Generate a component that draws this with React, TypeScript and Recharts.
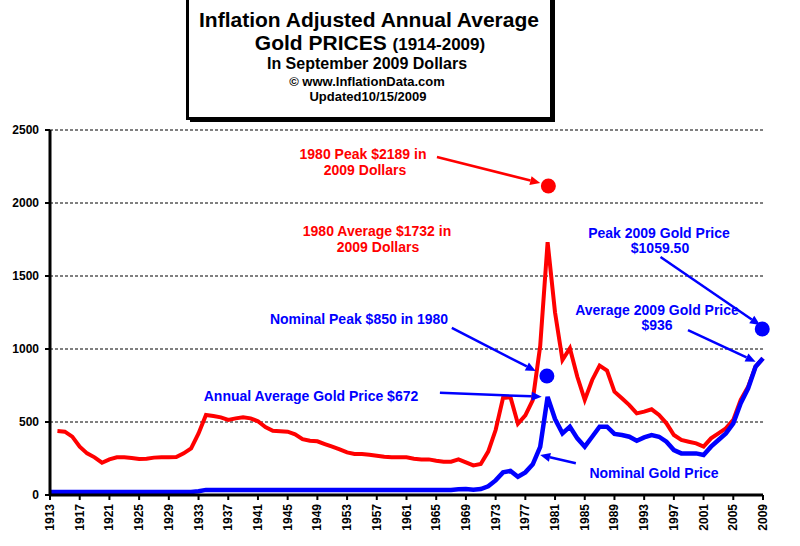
import { LineChart, Line, XAxis, YAxis, CartesianGrid, ReferenceDot, ReferenceLine } from 'recharts'

const FONT = "'Liberation Sans', Arial, sans-serif"
const RED = '#ff0000'
const BLUE = '#0000ff'

const years = [
  1913, 1914, 1915, 1916, 1917, 1918, 1919, 1920, 1921, 1922, 1923, 1924, 1925, 1926, 1927, 1928, 1929, 1930,
  1931, 1932, 1933, 1934, 1935, 1936, 1937, 1938, 1939, 1940, 1941, 1942, 1943, 1944, 1945, 1946, 1947, 1948,
  1949, 1950, 1951, 1952, 1953, 1954, 1955, 1956, 1957, 1958, 1959, 1960, 1961, 1962, 1963, 1964, 1965, 1966,
  1967, 1968, 1969, 1970, 1971, 1972, 1973, 1974, 1975, 1976, 1977, 1978, 1979, 1980, 1981, 1982, 1983, 1984,
  1985, 1986, 1987, 1988, 1989, 1990, 1991, 1992, 1993, 1994, 1995, 1996, 1997, 1998, 1999, 2000, 2001, 2002,
  2003, 2004, 2005, 2006, 2007, 2008, 2009,
]

// inflation adjusted (2009 dollars), no value for 1913
const realPrice = [
  null, 438, 434, 400, 331, 285, 258, 221, 244, 258, 258, 254, 247, 249, 256, 258, 258, 260,
  285, 320, 422, 548, 541, 532, 514, 525, 532, 525, 505, 465, 440, 437, 434, 416, 383, 372,
  368, 349, 331, 313, 292, 281, 281, 276, 269, 262, 258, 258, 258, 249, 244, 244, 235, 228,
  228, 244, 224, 203, 212, 297, 445, 665, 670, 488, 545, 650, 1020, 1732, 1250, 925, 1005, 810,
  651, 788, 886, 852, 708, 662, 616, 559, 571, 587, 548, 491, 411, 377, 365, 354, 331, 388,
  422, 457, 514, 651, 742, 879, 936,
]

// nominal annual average
const nominalPrice = [
  20, 20, 20, 20, 20, 20, 20, 20, 20, 20, 20, 20, 20, 20, 20, 20, 20, 20,
  20, 20, 26, 35, 35, 35, 35, 35, 35, 35, 35, 35, 35, 35, 35, 35, 35, 35,
  35, 35, 35, 35, 35, 35, 35, 35, 35, 35, 35, 35, 35, 35, 35, 35, 35, 35,
  35, 39, 41, 36, 41, 60, 100, 155, 165, 125, 155, 210, 330, 672, 520, 422, 468, 388,
  331, 399, 468, 468, 418, 411, 399, 372, 395, 411, 399, 365, 308, 285, 285, 285, 274, 331,
  377, 422, 491, 628, 731, 879, 936,
]

const yTicks = [0, 500, 1000, 1500, 2000, 2500]
const xTicks = [
  1913, 1917, 1921, 1925, 1929, 1933, 1937, 1941, 1945, 1949, 1953, 1957, 1961, 1965, 1969, 1973, 1977,
  1981, 1985, 1989, 1993, 1997, 2001, 2005, 2009,
]

// callout dots, placed where the original draws them
const calloutDots = [
  { year: 1980.1, value: 2116, color: RED },
  { year: 1979.9, value: 815, color: BLUE },
  { year: 2008.9, value: 1137, color: BLUE },
]

// callout arrows: from [year, value] to [year, value]
const calloutArrows = [
  { from: [1965.1, 2315], to: [1979.0, 2137], color: RED },
  { from: [1967.1, 1144], to: [1978.4, 849], color: BLUE },
  { from: [1965.5, 701], to: [1979.2, 673], color: BLUE },
  { from: [1983.8, 217], to: [1979.0, 274], color: BLUE },
  { from: [1995.2, 1630], to: [2008.6, 1164], color: BLUE },
  { from: [1998.9, 1130], to: [2008.0, 913], color: BLUE },
]

const data = years.map((year, i) => ({ year, real: realPrice[i], nominal: nominalPrice[i] }))

const Arrow = (props: any) => {
  const { x1, y1, x2, y2, stroke } = props
  const ang = Math.atan2(y2 - y1, x2 - x1)
  const len = 10
  const w = 4.5
  const bx = x2 - len * Math.cos(ang)
  const by = y2 - len * Math.sin(ang)
  const px = -Math.sin(ang) * w
  const py = Math.cos(ang) * w
  return (
    <g>
      <line x1={x1} y1={y1} x2={bx} y2={by} stroke={stroke} strokeWidth={2.5} />
      <polygon points={`${x2},${y2} ${bx + px},${by + py} ${bx - px},${by - py}`} fill={stroke} />
    </g>
  )
}

const YearTick = ({ x, y, payload }: any) => (
  <text
    x={x + 4}
    y={y + 2}
    transform={`rotate(-90 ${x + 4} ${y + 2})`}
    textAnchor="end"
    fontSize={12}
    fontWeight="bold"
    fontFamily={FONT}
    fill="#000"
  >
    {payload.value}
  </text>
)

const Label = ({ x, y, children, color, size = 14 }: any) => (
  <text x={x} y={y} textAnchor="middle" fontSize={size} fontWeight="bold" fontFamily={FONT} fill={color}>
    {children}
  </text>
)

export default function App() {
  return (
    <div style={{ position: 'absolute', left: 0, top: 0, width: 800, height: 546, background: '#fff' }}>
      <LineChart width={800} height={546} data={data} margin={{ top: 130, right: 37, bottom: 0, left: 0 }}>
        <CartesianGrid vertical={false} stroke="#000" strokeDasharray="3 2" />
        <XAxis
          type="number"
          dataKey="year"
          domain={[1913, 2009]}
          ticks={xTicks}
          interval={0}
          height={51}
          tick={<YearTick />}
          tickSize={5}
          axisLine={{ stroke: '#000', strokeWidth: 3 }}
          tickLine={{ stroke: '#000', strokeWidth: 2 }}
        />
        <YAxis
          type="number"
          domain={[0, 2500]}
          ticks={yTicks}
          interval={0}
          width={50}
          tickSize={5}
          tickMargin={6}
          tick={{ fontSize: 12, fontWeight: 'bold', fontFamily: FONT, fill: '#000' }}
          axisLine={{ stroke: '#000', strokeWidth: 3 }}
          tickLine={{ stroke: '#000', strokeWidth: 2 }}
        />
        <Line
          type="linear"
          dataKey="real"
          stroke={RED}
          strokeWidth={4}
          dot={false}
          connectNulls={false}
          isAnimationActive={false}
        />
        <Line
          type="linear"
          dataKey="nominal"
          stroke={BLUE}
          strokeWidth={4.5}
          dot={false}
          isAnimationActive={false}
        />
        {calloutArrows.map((a, i) => (
          <ReferenceLine
            key={`arrow-${i}`}
            segment={[
              { x: a.from[0], y: a.from[1] },
              { x: a.to[0], y: a.to[1] },
            ]}
            stroke={a.color}
            shape={Arrow}
            ifOverflow="visible"
          />
        ))}
        {calloutDots.map((d, i) => (
          <ReferenceDot
            key={`dot-${i}`}
            x={d.year}
            y={d.value}
            r={7.5}
            fill={d.color}
            stroke="none"
            ifOverflow="visible"
          />
        ))}
      </LineChart>

      <svg
        width={800}
        height={546}
        style={{ position: 'absolute', left: 0, top: 0, pointerEvents: 'none' }}
      >
        {/* title box */}
        <rect x={190} y={-4} width={365} height={126} fill="#000" />
        <rect x={187.5} y={-4} width={364} height={122.5} fill="#fff" stroke="#000" strokeWidth={3} />
        <Label x={369} y={27} color="#000" size={21}>
          Inflation Adjusted Annual Average
        </Label>
        <text x={370} y={50} textAnchor="middle" fontWeight="bold" fontFamily={FONT} fill="#000">
          <tspan fontSize={21}>Gold PRICES </tspan>
          <tspan fontSize={17}>(1914-2009)</tspan>
        </text>
        <Label x={367} y={69} color="#000" size={16}>
          In September 2009 Dollars
        </Label>
        <Label x={367} y={86} color="#000" size={13}>
          © www.InflationData.com
        </Label>
        <Label x={368} y={101} color="#000" size={13}>
          Updated10/15/2009
        </Label>

        {/* callout texts */}
        <Label x={363} y={159} color={RED}>1980 Peak $2189 in</Label>
        <Label x={365} y={175} color={RED}>2009 Dollars</Label>
        <Label x={377} y={236} color={RED}>1980 Average $1732 in</Label>
        <Label x={378} y={252} color={RED}>2009 Dollars</Label>
        <Label x={659} y={238} color={BLUE}>Peak 2009 Gold Price</Label>
        <Label x={660} y={253} color={BLUE}>$1059.50</Label>
        <Label x={359} y={324} color={BLUE}>Nominal Peak $850 in 1980</Label>
        <Label x={657} y={315} color={BLUE}>Average 2009 Gold Price</Label>
        <Label x={657} y={330} color={BLUE}>$936</Label>
        <Label x={311} y={401} color={BLUE}>Annual Average Gold Price $672</Label>
        <Label x={654} y={478} color={BLUE}>Nominal Gold Price</Label>
      </svg>
    </div>
  )
}
